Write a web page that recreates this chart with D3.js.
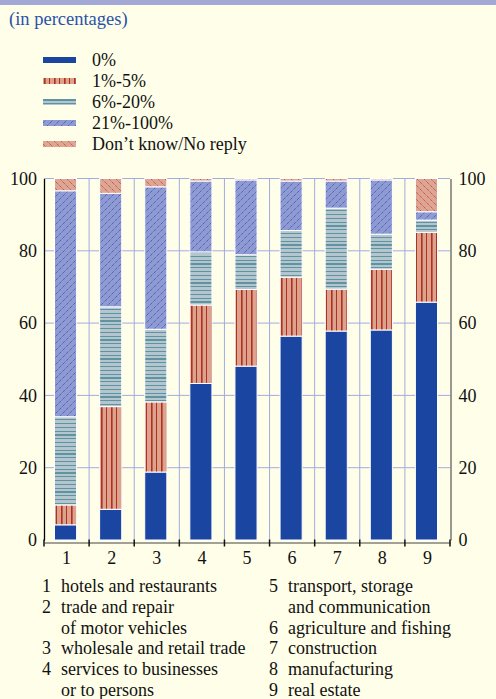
<!DOCTYPE html>
<html>
<head>
<meta charset="utf-8">
<script src="https://cdn.jsdelivr.net/npm/d3@7"></script>
<style>
html, body { margin: 0; padding: 0; background: #fefee9; }
svg { display: block; font-family: "Liberation Serif", "DejaVu Serif", serif; }
</style>
</head>
<body>
<div id="chart"></div>
<script>
var categories = ["1", "2", "3", "4", "5", "6", "7", "8", "9"];
var seriesNames = ["0%", "1%-5%", "6%-20%", "21%-100%", "Don\u2019t know/No reply"];
// share of each answer by sector, bottom to top
var zero = [4.2, 8.5, 18.8, 43.3, 48.1, 56.4, 57.8, 58.1, 65.8];
var low = [5.5, 28.4, 19.4, 21.7, 21.2, 16.3, 11.6, 16.8, 19.3];
var mid = [24.4, 27.6, 20.1, 14.7, 9.6, 12.9, 22.4, 9.7, 3.4];
var high = [62.5, 31.4, 39.4, 19.6, 20.7, 13.7, 7.5, 15.0, 2.3];
var dontKnow = [3.4, 4.1, 2.3, 0.7, 0.4, 0.7, 0.7, 0.4, 9.2];
var yTicks = [0, 20, 40, 60, 80, 100];
var notesLeft = [["1", "hotels and restaurants"], ["2", "trade and repair"], ["", "of motor vehicles"],
	["3", "wholesale and retail trade"], ["4", "services to businesses"], ["", "or to persons"]];
var notesRight = [["5", "transport, storage"], ["", "and communication"], ["6", "agriculture and fishing"],
	["7", "construction"], ["8", "manufacturing"], ["9", "real estate"]];

var W = 496, H = 699;
var FS = "18px";
var svg = d3.select("#chart").append("svg")
	.attr("width", W)
	.attr("height", H);

var defs = svg.append("defs");

// patterns
var p1 = defs.append("pattern").attr("id", "p-low")
	.attr("patternUnits", "userSpaceOnUse").attr("width", 10).attr("height", 10);
p1.append("rect").attr("width", 10).attr("height", 10).attr("fill", "#dba28e");
p1.append("rect").attr("x", 1).attr("width", 1.6).attr("height", 10).attr("fill", "#b3301f");
p1.append("rect").attr("x", 6).attr("width", 1).attr("height", 10).attr("fill", "#b3301f");

var p2 = defs.append("pattern").attr("id", "p-mid")
	.attr("patternUnits", "userSpaceOnUse").attr("width", 10).attr("height", 19);
p2.append("rect").attr("width", 10).attr("height", 19).attr("fill", "#b5c5cd");
[1, 5, 9, 13].forEach(function(y) {
	p2.append("rect").attr("y", y).attr("width", 10).attr("height", 1).attr("fill", "#5e93a2");
});
p2.append("rect").attr("y", 16).attr("width", 10).attr("height", 2).attr("fill", "#5e93a2");

var p3 = defs.append("pattern").attr("id", "p-high")
	.attr("patternUnits", "userSpaceOnUse").attr("width", 7).attr("height", 7);
p3.append("rect").attr("width", 7).attr("height", 7).attr("fill", "#8f9ad3");
p3.append("path").attr("d", "M0,7 L7,0 M-1,1 L1,-1 M6,8 L8,6")
	.attr("stroke", "#2c50b4").attr("stroke-width", 1).attr("stroke-dasharray", "1,1");

var p4 = defs.append("pattern").attr("id", "p-dk")
	.attr("patternUnits", "userSpaceOnUse").attr("width", 7).attr("height", 7);
p4.append("rect").attr("width", 7).attr("height", 7).attr("fill", "#dca693");
p4.append("path").attr("d", "M0,0 L7,7 M-1,6 L1,8 M6,-1 L8,1")
	.attr("stroke", "#c4363a").attr("stroke-width", 1).attr("stroke-dasharray", "1,1");

var fills = ["#1a45a0", "url(#p-low)", "url(#p-mid)", "url(#p-high)", "url(#p-dk)"];

// top band + title
svg.append("rect").attr("width", W).attr("height", 5).attr("fill", "#a3a9d6");
svg.append("text").attr("x", 9).attr("y", 25)
	.attr("fill", "#2a52a8").style("font-size", "18.5px")
	.text("(in percentages)");

// legend
var legend = svg.append("g").selectAll("g")
	.data(seriesNames)
	.enter().append("g")
	.attr("transform", function(d, i) { return "translate(43," + (60 + i * 21) + ")"; });
legend.append("rect").attr("y", -3).attr("width", 33).attr("height", 6)
	.attr("fill", function(d, i) { return fills[i]; });
legend.append("text").attr("x", 49).attr("y", 6)
	.style("font-size", FS).attr("fill", "#111")
	.text(function(d) { return d; });

// scales
var x = d3.scaleBand().domain(categories).range([44, 450]);
var y = d3.scaleLinear().domain([0, 100]).range([540, 178.5]);
var barW = x.bandwidth() * 0.49;

var grid = svg.append("g");
grid.selectAll("line.h")
	.data(yTicks.slice(1))
	.enter().append("line")
	.attr("x1", 44).attr("x2", 450)
	.attr("y1", function(d) { return y(d); }).attr("y2", function(d) { return y(d); })
	.attr("stroke", "#a3abe0").attr("stroke-width", 1);
grid.selectAll("line.v")
	.data(categories.slice(1))
	.enter().append("line")
	.attr("x1", function(d) { return x(d); }).attr("x2", function(d) { return x(d); })
	.attr("y1", y(100)).attr("y2", y(0))
	.attr("stroke", "#a3abe0").attr("stroke-width", 1);

// stacked bars
var rows = categories.map(function(c, i) {
	return { cat: c, s0: zero[i], s1: low[i], s2: mid[i], s3: high[i], s4: dontKnow[i] };
});
var stack = d3.stack().keys(["s0", "s1", "s2", "s3", "s4"]);
var layers = stack(rows);

svg.append("g").selectAll("g")
	.data(layers)
	.enter().append("g")
	.attr("fill", function(d, i) { return fills[i]; })
	.selectAll("rect")
	.data(function(d) { return d; })
	.enter().append("rect")
	.attr("x", function(d) { return x(d.data.cat) + (x.bandwidth() - barW) / 2 - 1; })
	.attr("width", barW)
	.attr("y", function(d) { return y(d[1]); })
	.attr("height", function(d) { return Math.max(0, y(d[0]) - y(d[1])); })
	.attr("stroke", "#ffffff").attr("stroke-width", 1);

// left axis
var yl = svg.append("g").attr("transform", "translate(44,0)")
	.call(d3.axisLeft(y).tickValues(yTicks).tickSize(0).tickPadding(7));
yl.select(".domain").attr("stroke", "#000").attr("stroke-width", 1.3);
yl.selectAll("text").style("font-size", FS).attr("fill", "#111")
	.attr("font-family", "Liberation Serif, serif");

// right axis
var yr = svg.append("g").attr("transform", "translate(450.5,0)")
	.call(d3.axisRight(y).tickValues(yTicks).tickSize(0).tickPadding(8));
yr.select(".domain").attr("stroke", "#555").attr("stroke-width", 1.2);
yr.selectAll("text").style("font-size", FS).attr("fill", "#111")
	.attr("font-family", "Liberation Serif, serif");

// bottom axis
var xb = svg.append("g").attr("transform", "translate(0,542.5)")
	.call(d3.axisBottom(x).tickSize(0).tickPadding(9));
xb.select(".domain").attr("stroke", "#444").attr("stroke-width", 1.2);
xb.selectAll("text").style("font-size", FS).attr("fill", "#111")
	.attr("font-family", "Liberation Serif, serif");
xb.selectAll("line.sep")
	.data(categories.concat(["end"]))
	.enter().append("line")
	.attr("x1", function(d, i) { return i < 9 ? x(d) : 450; })
	.attr("x2", function(d, i) { return i < 9 ? x(d) : 450; })
	.attr("y1", -3).attr("y2", 4)
	.attr("stroke", "#111").attr("stroke-width", 1.5);

// sector notes
function notes(data, nx, tx) {
	var g = svg.append("g").selectAll("g")
		.data(data)
		.enter().append("g")
		.attr("transform", function(d, i) { return "translate(0," + (592 + i * 20.8) + ")"; });
	g.append("text").attr("x", nx).attr("text-anchor", "end")
		.style("font-size", FS).attr("fill", "#111")
		.text(function(d) { return d[0]; });
	g.append("text").attr("x", tx)
		.style("font-size", FS).attr("fill", "#111")
		.text(function(d) { return d[1]; });
}
notes(notesLeft, 51, 61);
notes(notesRight, 278, 288);
</script>
</body>
</html>
